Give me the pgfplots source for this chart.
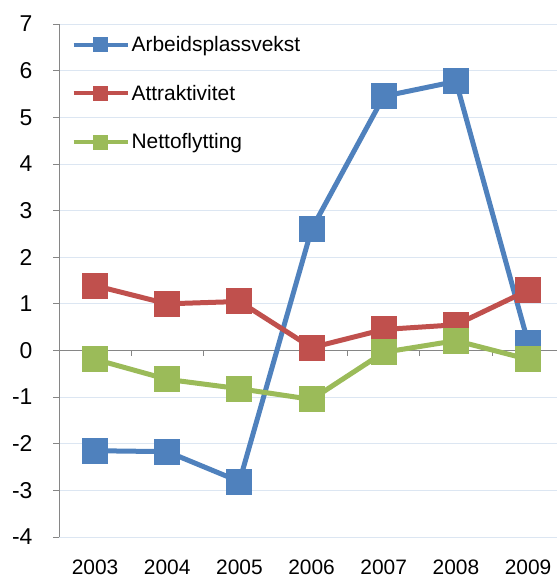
\documentclass[border=0pt]{standalone}
\usepackage{pgfplots}
\pgfplotsset{compat=1.18}
\usepackage{fontspec}
\setmainfont{Liberation Sans}
\definecolor{cblue}{HTML}{4F81BD}
\definecolor{cred}{HTML}{C0504D}
\definecolor{cgreen}{HTML}{9BBB59}
\definecolor{gridc}{HTML}{DCE6F2}
\definecolor{axc}{HTML}{868686}
\begin{document}
\begin{tikzpicture}
\begin{axis}[name=ax,
  scale only axis, width=498bp, height=513bp,
  xmin=2002.5, xmax=2009.4, ymin=-4, ymax=7,
  axis y line*=left, axis x line*=bottom,
  x axis line style={draw=none},
  y axis line style={draw=axc, line width=0.8pt},
  ytick={-4,...,7}, xtick={2003,...,2009},
  xticklabels={2003,2004,2005,2006,2007,2008,2009},
  x tick style={draw=none}, major x tick style={draw=none},
  y tick style={draw=axc, line width=0.8pt},
  tick align=outside, major tick length=6bp,
  ymajorgrids, grid style={gridc, line width=0.8pt},
  xticklabel style={font=\fontsize{21}{24}\selectfont, yshift=-13bp},
  yticklabel style={font=\fontsize{23}{26}\selectfont, xshift=-17bp},
  /pgf/number format/assume math mode=true,
  /pgf/number format/1000 sep={},
  clip=false,
  legend style={at={(rel axis cs:0.025,0.98)}, anchor=north west, draw=none, fill=none,
    font=\fontsize{21}{24}\selectfont, row sep=28bp, inner sep=0pt, cells={anchor=west}},
  legend cell align=left,
  legend image code/.code={\draw[mark repeat=2, mark phase=2, #1, line width=4bp, mark size=5.5bp] plot coordinates {(0bp,0bp) (27bp,0bp) (54bp,0bp)};},
]
\draw[axc, line width=0.8pt] (axis cs:2002.5,0) -- (axis cs:2009.4,0);
\pgfplotsinvokeforeach{2003.5,2004.5,2005.5,2006.5,2007.5,2008.5}{
  \draw[axc, line width=0.8pt] (axis cs:#1,0) -- ([yshift=-6bp]axis cs:#1,0);
}
\addplot[color=cblue, line width=5bp, mark=square*, mark size=10.5bp, mark options={fill=cblue}] coordinates {
(2003,-2.15) (2004,-2.17) (2005,-2.81) (2006,2.6) (2007,5.45) (2008,5.77) (2009,0.17)};
\addlegendentry{Arbeidsplassvekst}
\addplot[color=cred, line width=5bp, mark=square*, mark size=10.5bp, mark options={fill=cred}] coordinates {
(2003,1.39) (2004,1.0) (2005,1.05) (2006,0.06) (2007,0.45) (2008,0.55) (2009,1.29)};
\addlegendentry{Attraktivitet}
\addplot[color=cgreen, line width=5bp, mark=square*, mark size=10.5bp, mark options={fill=cgreen}] coordinates {
(2003,-0.19) (2004,-0.62) (2005,-0.82) (2006,-1.05) (2007,-0.04) (2008,0.21) (2009,-0.19)};
\addlegendentry{Nettoflytting}
\end{axis}
\pgfresetboundingbox
\path[use as bounding box] ([xshift=-59bp,yshift=-42bp]ax.south west) rectangle ([yshift=24bp]ax.north east);
\end{tikzpicture}
\end{document}
